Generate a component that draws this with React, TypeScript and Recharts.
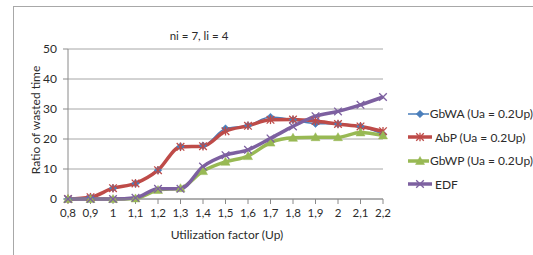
import React from 'react';
import { LineChart, Line, XAxis, YAxis, CartesianGrid, Legend, Label } from 'recharts';

const categories = ['0,8', '0,9', '1', '1,1', '1,2', '1,3', '1,4', '1,5', '1,6', '1,7', '1,8', '1,9', '2', '2,1', '2,2'];
const gbwaValues = [0, 0.5, 3.6, 5.2, 9.6, 17.5, 17.8, 23.5, 24.5, 27.3, 26.4, 25.1, 25.0, 24.2, 21.6];
const abpValues = [0, 0.6, 3.6, 5.2, 9.6, 17.4, 17.6, 22.6, 24.4, 26.4, 26.5, 26.0, 25.0, 24.2, 22.6];
const gbwpValues = [0, 0, 0, 0.2, 3.0, 3.6, 9.3, 12.4, 14.3, 18.8, 20.4, 20.6, 20.6, 22.2, 21.2];
const edfValues = [0, 0, 0, 0.4, 3.4, 3.4, 10.8, 14.6, 16.4, 20.2, 24.2, 27.6, 29.2, 31.4, 34.0];
const yTicks = [0, 10, 20, 30, 40, 50];

const seriesNames = ['GbWA (Ua = 0.2Up)', 'AbP (Ua = 0.2Up)', 'GbWP (Ua = 0.2Up)', 'EDF'];
const titleText = 'ni = 7, li = 4';
const xTitle = 'Utilization factor (Up)';
const yTitle = 'Ratio of wasted time';

const data = categories.map((c, i) => ({
  cat: c,
  gbwa: gbwaValues[i],
  abp: abpValues[i],
  gbwp: gbwpValues[i],
  edf: edfValues[i],
}));

const FONT = 'Lato, "Open Sans", sans-serif';
const TEXT = '#2b2b2b';

type MarkerType = 'diamond' | 'star' | 'triangle' | 'x';

const series: { key: string; name: string; color: string; width: number; marker: MarkerType }[] = [
  { key: 'gbwa', name: seriesNames[0], color: '#4A7EBB', width: 1.5, marker: 'diamond' },
  { key: 'abp', name: seriesNames[1], color: '#BE4B48', width: 3.5, marker: 'star' },
  { key: 'gbwp', name: seriesNames[2], color: '#98B954', width: 3.5, marker: 'triangle' },
  { key: 'edf', name: seriesNames[3], color: '#7D60A0', width: 3.5, marker: 'x' },
];

function Marker({ type, cx, cy, color }: { type: MarkerType; cx: number; cy: number; color: string }) {
  if (cx == null || cy == null || isNaN(cx) || isNaN(cy)) return null;
  const s = 3.8;
  if (type === 'diamond') {
    return <polygon points={`${cx},${cy - s} ${cx + s},${cy} ${cx},${cy + s} ${cx - s},${cy}`} fill={color} stroke={color} strokeWidth={0.5} />;
  }
  if (type === 'triangle') {
    return <polygon points={`${cx},${cy - 4.5} ${cx + 4.5},${cy + 3.5} ${cx - 4.5},${cy + 3.5}`} fill={color} stroke={color} strokeWidth={0.5} />;
  }
  if (type === 'star') {
    return (
      <g stroke={color} strokeWidth={1.3}>
        <line x1={cx - s} y1={cy - s} x2={cx + s} y2={cy + s} />
        <line x1={cx - s} y1={cy + s} x2={cx + s} y2={cy - s} />
        <line x1={cx} y1={cy - s - 0.5} x2={cx} y2={cy + s + 0.5} />
      </g>
    );
  }
  return (
    <g stroke={color} strokeWidth={1.3}>
      <line x1={cx - s} y1={cy - s} x2={cx + s} y2={cy + s} />
      <line x1={cx - s} y1={cy + s} x2={cx + s} y2={cy - s} />
    </g>
  );
}

function LegendContent() {
  return (
    <div style={{ fontFamily: FONT, fontSize: 12, color: TEXT }}>
      {series.map((s) => (
        <div key={s.key} style={{ height: 23.5, display: 'flex', alignItems: 'center', whiteSpace: 'nowrap' }}>
          <svg width={26} height={12} style={{ display: 'block' }}>
            <line x1={0} y1={6} x2={24} y2={6} stroke={s.color} strokeWidth={s.width} />
            <Marker type={s.marker} cx={12} cy={6} color={s.color} />
          </svg>
          <span style={{ marginLeft: 1 }}>{s.name}</span>
        </div>
      ))}
    </div>
  );
}

export default function App() {
  return (
    <div style={{ position: 'absolute', left: 0, top: 0, width: 533, height: 255, background: '#fff', overflow: 'hidden' }}>
      <div style={{ position: 'absolute', left: 13, top: 6, width: 560, height: 280, borderLeft: '1.5px solid #a8a8a8', borderTop: '1.5px solid #a8a8a8' }} />
      <LineChart width={533} height={255} data={data} margin={{ top: 49, right: 150, bottom: 25, left: 18 }}>
        <CartesianGrid vertical={false} stroke="#a6a6a6" strokeWidth={1} />
        <XAxis
          dataKey="cat"
          height={31}
          interval={0}
          tickSize={5}
          tickMargin={5}
          stroke="#8a8a8a"
          tick={{ fill: TEXT, fontSize: 11.5, fontFamily: FONT }}
          tickLine={{ stroke: '#8a8a8a' }}
        >
          <Label
            content={() => (
              <text x={227} y={239} textAnchor="middle" fill={TEXT} fontSize={12} fontFamily={FONT}>
                {xTitle}
              </text>
            )}
          />
          <Label
            content={() => (
              <text x={199} y={40} textAnchor="middle" fill={TEXT} fontSize={11.5} fontFamily={FONT}>
                {titleText}
              </text>
            )}
          />
        </XAxis>
        <YAxis
          width={50}
          domain={[0, 50]}
          ticks={yTicks}
          interval={0}
          tickSize={5}
          tickMargin={6}
          stroke="#8a8a8a"
          tick={{ fill: TEXT, fontSize: 12, fontFamily: FONT }}
        >
          <Label
            content={() => (
              <text x={40} y={120} transform="rotate(-90, 40, 120)" textAnchor="middle" fill={TEXT} fontSize={12} fontFamily={FONT}>
                {yTitle}
              </text>
            )}
          />
        </YAxis>
        {series.map((s) => (
          <Line
            key={s.key}
            type="monotone"
            dataKey={s.key}
            name={s.name}
            stroke={s.color}
            strokeWidth={s.width}
            isAnimationActive={false}
            dot={(p: any) => <Marker key={`${s.key}-${p.index}`} type={s.marker} cx={p.cx} cy={p.cy} color={s.color} />}
            activeDot={false}
          />
        ))}
        <Legend
          layout="vertical"
          align="center"
          verticalAlign="middle"
          wrapperStyle={{ left: 408, top: 102, width: 125 }}
          content={() => <LegendContent />}
        />
      </LineChart>
    </div>
  );
}
